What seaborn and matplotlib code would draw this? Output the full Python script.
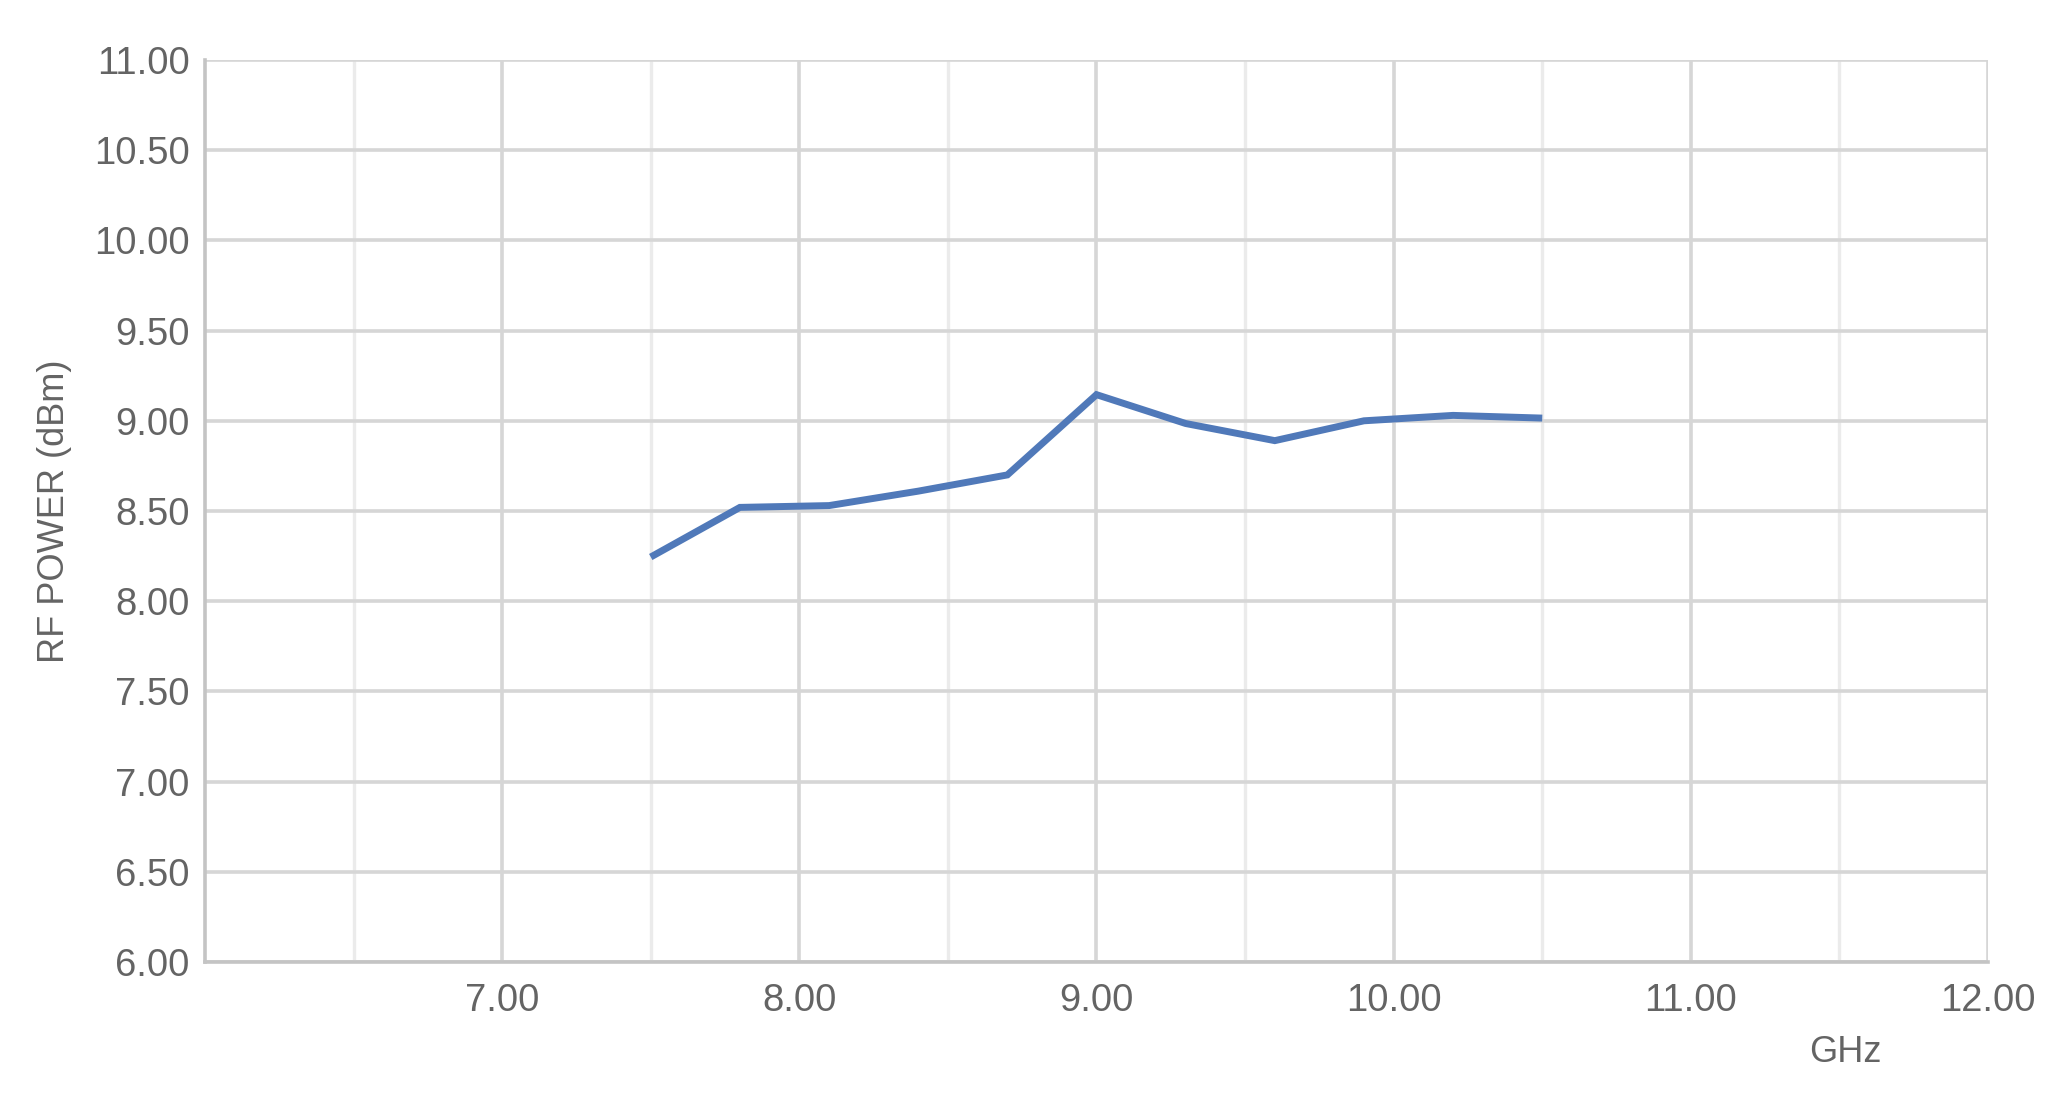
import numpy as np
import pandas as pd
import matplotlib
matplotlib.use("Agg")
import matplotlib.pyplot as plt
import seaborn as sns
from matplotlib.ticker import FixedLocator, FormatStrFormatter

# Data
freq_ghz = [7.5, 7.8, 8.1, 8.4, 8.7, 9.0, 9.3, 9.6, 9.9, 10.2, 10.5]
rf_power_dbm = [8.245, 8.52, 8.53, 8.61, 8.70, 9.145, 8.985, 8.89, 9.00, 9.03, 9.015]
x_major_ticks = [7, 8, 9, 10, 11, 12]
x_minor_ticks = [6.5, 7.5, 8.5, 9.5, 10.5, 11.5]
y_ticks = [6.0, 6.5, 7.0, 7.5, 8.0, 8.5, 9.0, 9.5, 10.0, 10.5, 11.0]
x_label = "GHz"
y_label = "RF POWER (dBm)"

df = pd.DataFrame({"GHz": freq_ghz, "dBm": rf_power_dbm})

sns.set_theme(style="white")
plt.rcParams['font.family'] = ['Liberation Sans', 'DejaVu Sans']

fig = plt.figure(figsize=(20.65, 10.98), dpi=100)
ax = fig.add_axes([205 / 2065, 1 - 962 / 1098, (1988 - 205) / 2065, (962 - 60) / 1098])

grid_major = "#d6d6d6"
grid_minor = "#ebebeb"
text_col = "#646464"

sns.lineplot(data=df, x="GHz", y="dBm", ax=ax, color="#5079b9", linewidth=5.0,
             zorder=5, solid_joinstyle="miter", solid_capstyle="butt")

ax.set_xlim(6, 12)
ax.set_ylim(6, 11)
ax.xaxis.set_major_locator(FixedLocator(x_major_ticks))
ax.xaxis.set_minor_locator(FixedLocator(x_minor_ticks))
ax.yaxis.set_major_locator(FixedLocator(y_ticks))
ax.xaxis.set_major_formatter(FormatStrFormatter("%.2f"))
ax.yaxis.set_major_formatter(FormatStrFormatter("%.2f"))

ax.grid(True, which="major", axis="both", color=grid_major, linewidth=2.6, zorder=0)
ax.grid(True, which="minor", axis="x", color=grid_minor, linewidth=2.4, zorder=0)
ax.set_axisbelow(True)

for side in ["top", "right"]:
    ax.spines[side].set_visible(False)
for side in ["left", "bottom"]:
    ax.spines[side].set_color("#c4c4c4")
    ax.spines[side].set_linewidth(2.6)

ax.tick_params(axis="both", which="both", length=0, labelsize=27.5, labelcolor=text_col)
ax.tick_params(axis="y", pad=11)
ax.tick_params(axis="x", pad=15)

ax.set_xlabel("")
ax.set_ylabel(y_label, fontsize=26, color=text_col, labelpad=16)
fig.text(1845 / 2065, 1 - 1052 / 1098, x_label, fontsize=26, color=text_col,
         ha="center", va="center")

fig.savefig("out.png", dpi=100, facecolor="white")
